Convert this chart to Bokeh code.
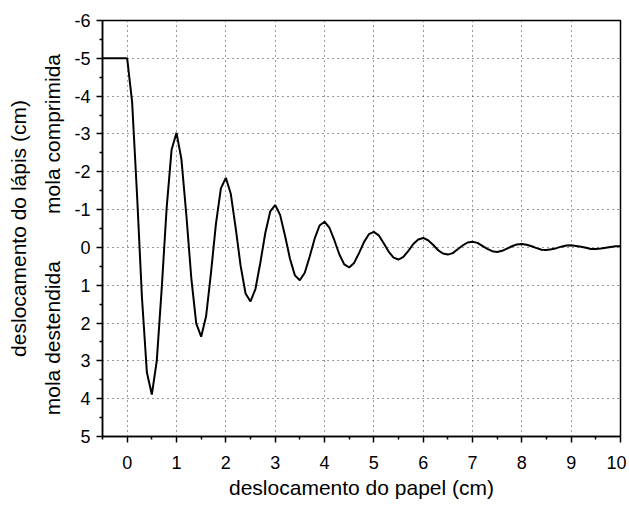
from bokeh.plotting import figure
from bokeh.models import Range1d, FixedTicker
from bokeh.layouts import row
from bokeh.core.properties import value
from bokeh.embed import file_html
from bokeh.resources import INLINE
import math

# ---- data ----
x_vals = [-0.5, -0.4, -0.3, -0.2, -0.1,
          0.0, 0.1, 0.2, 0.3, 0.4, 0.5, 0.6, 0.7, 0.8, 0.9,
          1.0, 1.1, 1.2, 1.3, 1.4, 1.5, 1.6, 1.7, 1.8, 1.9,
          2.0, 2.1, 2.2, 2.3, 2.4, 2.5, 2.6, 2.7, 2.8, 2.9,
          3.0, 3.1, 3.2, 3.3, 3.4, 3.5, 3.6, 3.7, 3.8, 3.9,
          4.0, 4.1, 4.2, 4.3, 4.4, 4.5, 4.6, 4.7, 4.8, 4.9,
          5.0, 5.1, 5.2, 5.3, 5.4, 5.5, 5.6, 5.7, 5.8, 5.9,
          6.0, 6.1, 6.2, 6.3, 6.4, 6.5, 6.6, 6.7, 6.8, 6.9,
          7.0, 7.1, 7.2, 7.3, 7.4, 7.5, 7.6, 7.7, 7.8, 7.9,
          8.0, 8.1, 8.2, 8.3, 8.4, 8.5, 8.6, 8.7, 8.8, 8.9,
          9.0, 9.1, 9.2, 9.3, 9.4, 9.5, 9.6, 9.7, 9.8, 9.9,
          10.0]
y_vals = [-5.0, -5.0, -5.0, -5.0, -5.0,
          -5.00, -3.85, -1.40, 1.33, 3.31, 3.89, 3.00, 1.09, -1.04, -2.58,
          -3.03, -2.33, -0.85, 0.81, 2.01, 2.36, 1.82, 0.66, -0.63, -1.56,
          -1.84, -1.42, -0.51, 0.49, 1.22, 1.43, 1.10, 0.40, -0.38, -0.95,
          -1.12, -0.86, -0.31, 0.30, 0.74, 0.87, 0.67, 0.24, -0.23, -0.58,
          -0.68, -0.52, -0.19, 0.18, 0.45, 0.53, 0.41, 0.15, -0.14, -0.35,
          -0.41, -0.32, -0.11, 0.11, 0.27, 0.32, 0.25, 0.09, -0.09, -0.21,
          -0.25, -0.19, -0.07, 0.07, 0.16, 0.19, 0.15, 0.05, -0.05, -0.13,
          -0.15, -0.12, -0.04, 0.04, 0.10, 0.12, 0.09, 0.03, -0.03, -0.08,
          -0.09, -0.07, -0.03, 0.02, 0.06, 0.07, 0.05, 0.02, -0.02, -0.05,
          -0.06, -0.04, -0.02, 0.01, 0.04, 0.04, 0.03, 0.01, -0.01, -0.03,
          -0.03]

x_major = [0, 1, 2, 3, 4, 5, 6, 7, 8, 9, 10]
x_minor = [-0.5, 0.5, 1.5, 2.5, 3.5, 4.5, 5.5, 6.5, 7.5, 8.5, 9.5]
y_major = [-6, -5, -4, -3, -2, -1, 0, 1, 2, 3, 4, 5]
y_minor = [-5.5, -4.5, -3.5, -2.5, -1.5, -0.5, 0.5, 1.5, 2.5, 3.5, 4.5]
y_tick_labels = ["-6", "-5", "-4", "-3", "-2", "-1", "0", "1", "2", "3", "4", "5"]

x_title = "deslocamento do papel (cm)"
side_texts = ["deslocamento do lápis (cm)", "mola comprimida", "mola destendida"]
side_text_y = [-0.5, -3.0, 2.4]     # centre of each side text, in y-axis units
side_text_x = [18, 52, 52]          # pixel column inside the side panel

FONT = "Liberation Sans"
TOTAL_H = 505
TOP = 20
BOTTOM = 69
SIDE_W = 70

yr = Range1d(5, -6)

# ---- side panel carrying the vertical texts (shares the y scale) ----
side = figure(width=SIDE_W, height=TOTAL_H, output_backend="svg", toolbar_location=None,
              x_range=Range1d(0, SIDE_W), y_range=yr,
              x_axis_location=None, y_axis_location=None,
              min_border_left=0, min_border_right=0,
              min_border_top=TOP, min_border_bottom=BOTTOM)
side.outline_line_color = None
side.xgrid.visible = False
side.ygrid.visible = False
side.background_fill_color = "white"
side.border_fill_color = "white"
side.text(x=side_text_x, y=side_text_y, text=side_texts, angle=math.pi / 2,
          text_font=value(FONT), text_font_size="21px", text_color="black",
          text_align="center", text_baseline="middle")

# ---- main plot ----
p = figure(width=626 - SIDE_W, height=TOTAL_H, output_backend="svg", toolbar_location=None,
           x_range=Range1d(-0.5, 10), y_range=yr,
           min_border_left=102 - SIDE_W, min_border_top=TOP, min_border_right=6,
           min_border_bottom=BOTTOM)
p.background_fill_color = "white"
p.border_fill_color = "white"
p.outline_line_color = "black"
p.outline_line_width = 1.5

p.line(x=x_vals, y=y_vals, line_color="black", line_width=2)

p.xaxis.ticker = FixedTicker(ticks=x_major, minor_ticks=x_minor)
p.yaxis.ticker = FixedTicker(ticks=y_major, minor_ticks=y_minor)
p.yaxis.major_label_overrides = {t: s for t, s in zip(y_major, y_tick_labels)}

for ax in (p.xaxis[0], p.yaxis[0]):
    ax.axis_line_width = 1.5
    ax.axis_line_color = "black"
    ax.major_tick_line_color = "black"
    ax.minor_tick_line_color = "black"
    ax.major_tick_line_width = 1.5
    ax.minor_tick_line_width = 1.5
    ax.major_tick_out = 6
    ax.major_tick_in = 0
    ax.minor_tick_out = 3
    ax.minor_tick_in = 0
    ax.major_label_text_font = FONT
    ax.major_label_text_font_size = "18px"
    ax.major_label_text_color = "black"
p.xaxis.major_label_standoff = 13
p.yaxis.major_label_standoff = 6

p.xaxis.axis_label = x_title
p.xaxis.axis_label_text_font = FONT
p.xaxis.axis_label_text_font_size = "21px"
p.xaxis.axis_label_text_font_style = "normal"
p.xaxis.axis_label_text_color = "black"
p.xaxis.axis_label_standoff = 4

for g in (p.xgrid[0], p.ygrid[0]):
    g.grid_line_color = "black"
    g.grid_line_alpha = 0.8
    g.grid_line_width = 1
    g.grid_line_dash = "1 4"

layout = row(side, p, spacing=0)
open("out.html", "w").write(file_html(layout, INLINE))
